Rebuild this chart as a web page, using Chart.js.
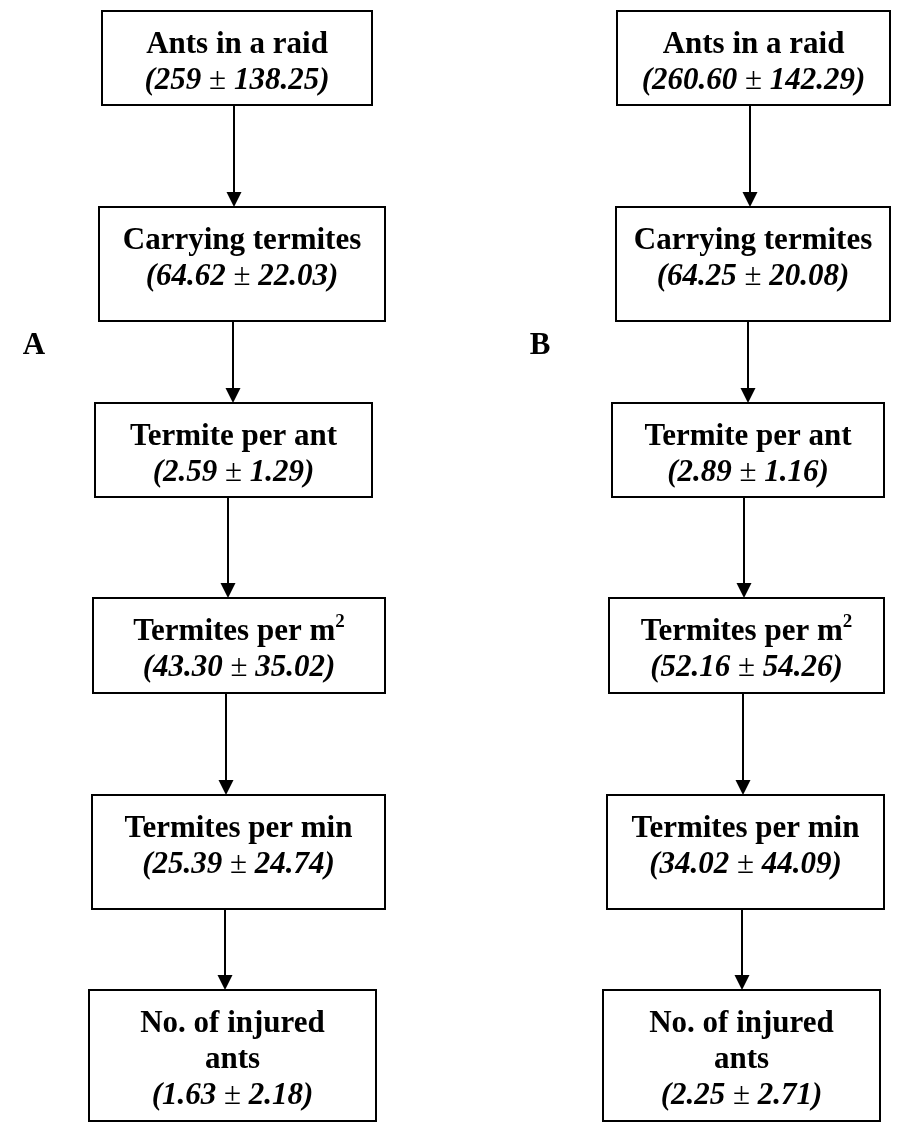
<!DOCTYPE html>
<html>
<head>
<meta charset="utf-8">
<script src="https://cdn.jsdelivr.net/npm/chart.js@4/dist/chart.umd.min.js"></script>
<style>
  html, body { margin: 0; padding: 0; background: #fff; }
  #flow { display: block; }
</style>
</head>
<body>
<canvas id="flow" width="907" height="1123"></canvas>
<script>
// steps of the raid, top to bottom (same for both panels)
const stepLabels = ['Ants in a raid', 'Carrying termites', 'Termite per ant', 'Termites per m|2', 'Termites per min', 'No. of injured|ants'];
// panel A: mean and SD
const meanA = ['259', '64.62', '2.59', '43.30', '25.39', '1.63'];
const sdA = ['138.25', '22.03', '1.29', '35.02', '24.74', '2.18'];
// panel B: mean and SD
const meanB = ['260.60', '64.25', '2.89', '52.16', '34.02', '2.25'];
const sdB = ['142.29', '20.08', '1.16', '54.26', '44.09', '2.71'];
const panelNames = ['A', 'B'];

// layout (page units, y going down)
const rowTop = [11, 207, 403, 598, 795, 990];
const rowBottom = [105, 321, 497, 693, 909, 1121];
const leftA = [102, 99, 95, 93, 92, 89];
const rightA = [372, 385, 372, 385, 385, 376];
const leftB = [617, 616, 612, 609, 607, 603];
const rightB = [890, 890, 884, 884, 884, 880];
const arrowA = [234, 233, 228, 226, 225, 224];
const arrowB = [750, 748, 744, 743, 742, 741];
const panelLabelPos = [[24, 354], [530, 354]];

const FONT = '"Liberation Serif", "Times New Roman", serif';
const FS = 31;
const LINE = 36;

// draws the flow boxes and arrows using the chart's scales
const flowPlugin = {
  id: 'flowBoxes',
  afterDraw(chart) {
    const ctx = chart.ctx;
    const xs = chart.scales.x, ys = chart.scales.y;
    const px = v => xs.getPixelForValue(v);
    const py = v => ys.getPixelForValue(v);

    const panels = [
      { left: leftA, right: rightA, arrow: arrowA, mean: meanA, sd: sdA },
      { left: leftB, right: rightB, arrow: arrowB, mean: meanB, sd: sdB }
    ];

    // draw a row of [text, font] pieces centred on cx
    function drawPieces(pieces, cx, y) {
      let total = 0;
      pieces.forEach(pc => { ctx.font = pc[1]; total += ctx.measureText(pc[0]).width; });
      let x = cx - total / 2;
      ctx.textAlign = 'left';
      pieces.forEach(pc => {
        ctx.font = pc[1];
        ctx.fillText(pc[0], x, y + (pc[2] || 0));
        x += ctx.measureText(pc[0]).width;
      });
    }

    const bold = 'bold ' + FS + 'px ' + FONT;
    const boldIt = 'italic bold ' + FS + 'px ' + FONT;
    const plain = FS + 'px ' + FONT;
    const sup = 'bold ' + Math.round(FS * 0.62) + 'px ' + FONT;

    ctx.save();
    ctx.strokeStyle = '#000';
    ctx.fillStyle = '#000';
    ctx.lineWidth = 2;
    ctx.textBaseline = 'alphabetic';

    panels.forEach((p, pi) => {
      for (let i = 0; i < stepLabels.length; i++) {
        const x0 = px(p.left[i]), x1 = px(p.right[i]);
        const y0 = py(rowTop[i]), y1 = py(rowBottom[i]);
        ctx.strokeRect(x0, y0, x1 - x0, y1 - y0);

        const cx = (x0 + x1) / 2;
        let base = y0 + 42;
        const lines = stepLabels[i].split('|');
        if (lines.length === 2 && lines[1] === '2') {
          // "m|2" -> m with superscript 2
          drawPieces([[lines[0], bold], ['2', sup, -13]], cx, base);
          base += LINE;
        } else {
          lines.forEach(t => { drawPieces([[t, bold]], cx, base); base += LINE; });
        }
        drawPieces([['(' + p.mean[i] + ' ', boldIt], ['\u00b1', plain], [' ' + p.sd[i] + ')', boldIt]], cx, base);

        // arrow down to the next box
        if (i < stepLabels.length - 1) {
          const ax = px(p.arrow[i]);
          const tipY = py(rowTop[i + 1]);
          ctx.beginPath();
          ctx.moveTo(ax, y1);
          ctx.lineTo(ax, tipY - 14);
          ctx.stroke();
          ctx.beginPath();
          ctx.moveTo(ax - 7.5, tipY - 15);
          ctx.lineTo(ax + 7.5, tipY - 15);
          ctx.lineTo(ax, tipY);
          ctx.closePath();
          ctx.fill();
        }
      }
      drawPieces([[panelNames[pi], bold]], px(panelLabelPos[pi][0]) + 10, py(panelLabelPos[pi][1]));
    });
    ctx.restore();
  }
};

new Chart(document.getElementById('flow'), {
  type: 'scatter',
  data: { datasets: [] },
  options: {
    responsive: false,
    animation: false,
    layout: { padding: 0 },
    plugins: { legend: { display: false }, tooltip: { enabled: false } },
    scales: {
      x: { type: 'linear', min: 0, max: 907, display: false },
      y: { type: 'linear', min: 0, max: 1123, reverse: true, display: false }
    }
  },
  plugins: [flowPlugin]
});
</script>
</body>
</html>
